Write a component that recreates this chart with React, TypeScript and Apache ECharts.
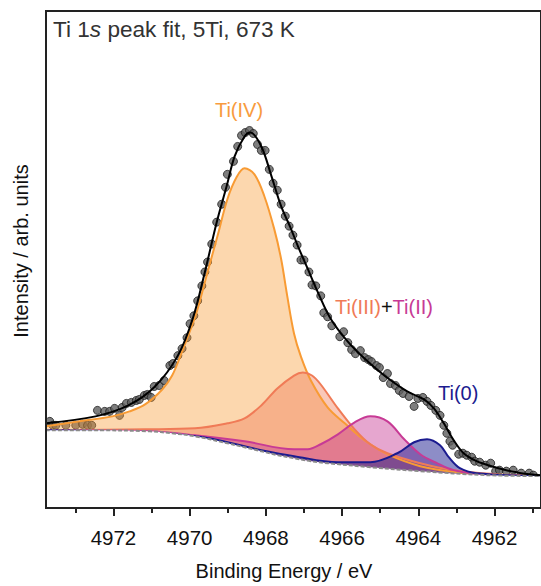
import React, { useEffect, useRef } from "react";
import * as echarts from "echarts";

// Binding energy axis
const xMin = 4960.78;
const xMax = 4973.77;
const majorTicks = [4962, 4964, 4966, 4968, 4970, 4972];
const minorTicks = [4961, 4963, 4965, 4967, 4969, 4971, 4973];

// Measured points (eV, intensity a.u.)
const pointsEV = [4973.67, 4973.59, 4973.51, 4973.25, 4972.99, 4972.81, 4972.68, 4972.57, 4972.42, 4972.23, 4972.10, 4971.97, 4971.84, 4971.77, 4971.66, 4971.53, 4971.40, 4971.32, 4971.19, 4971.11, 4971.01, 4970.93, 4970.80, 4970.67, 4970.52, 4970.44, 4970.31, 4970.20, 4970.07, 4969.99, 4969.89, 4969.79, 4969.68, 4969.60, 4969.53, 4969.42, 4969.29, 4969.16, 4969.06, 4969.01, 4968.85, 4968.74, 4968.64, 4968.54, 4968.43, 4968.33, 4968.22, 4968.12, 4968.02, 4967.91, 4967.81, 4967.70, 4967.60, 4967.49, 4967.39, 4967.29, 4967.18, 4967.08, 4967.00, 4966.87, 4966.79, 4966.69, 4966.56, 4966.48, 4966.38, 4966.27, 4966.06, 4965.96, 4965.85, 4965.75, 4965.65, 4965.52, 4965.41, 4965.31, 4965.23, 4965.10, 4965.02, 4964.92, 4964.81, 4964.73, 4964.60, 4964.50, 4964.40, 4964.24, 4964.11, 4964.01, 4963.88, 4963.77, 4963.67, 4963.54, 4963.43, 4963.33, 4963.25, 4963.17, 4963.10, 4962.94, 4962.83, 4962.73, 4962.60, 4962.52, 4962.39, 4962.23, 4962.10, 4961.97, 4961.87, 4961.69, 4961.51, 4961.30, 4961.09, 4960.98];
const pointsI = [87, 83, 83, 83, 83, 84, 83, 83, 98, 97, 97, 100, 93, 101, 105, 106, 108, 109, 113, 114, 111, 122, 123, 128, 143, 145, 153, 160, 171, 185, 193, 208, 223, 237, 247, 265, 287, 305, 322, 335, 348, 363, 374, 377, 379, 376, 365, 359, 359, 340, 326, 319, 305, 293, 283, 274, 264, 249, 249, 237, 224, 223, 213, 196, 192, 183, 172, 177, 166, 159, 155, 158, 151, 149, 147, 143, 141, 131, 135, 125, 123, 118, 115, 112, 102, 110, 111, 107, 103, 98, 93, 83, 75, 67, 63, 54, 55, 53, 51, 47, 46, 43, 45, 37, 38, 37, 38, 35, 35, 33];

// Fit envelope
const fitEV = [4973.77, 4972.47, 4971.61, 4970.91, 4970.31, 4969.92, 4969.60, 4969.29, 4969.03, 4968.82, 4968.56, 4968.41, 4968.12, 4967.86, 4967.60, 4967.36, 4967.16, 4966.90, 4966.64, 4966.30, 4965.85, 4965.41, 4964.89, 4964.29, 4963.85, 4963.59, 4963.33, 4963.07, 4962.81, 4962.47, 4962.08, 4961.69, 4961.30, 4960.78];
const fitI = [85, 92, 103, 122, 153, 190, 237, 287, 323, 353, 373, 377, 363, 334, 303, 282, 263, 240, 217, 190, 167, 150, 133, 117, 109, 100, 85, 68, 55, 47, 42, 38, 35, 33];

// Background (Shirley-like)
const bgEV = [4973.77, 4972.36, 4971.06, 4970.46, 4969.86, 4969.01, 4968.56, 4968.12, 4967.68, 4967.26, 4966.82, 4966.38, 4965.26, 4963.95, 4962.21, 4960.78];
const bgI = [78, 78, 77, 75, 72, 65, 61, 57, 53, 50, 47, 45, 41, 37, 33, 32];

// Ti(IV) component
const ti4EV = [4973.77, 4972.89, 4972.03, 4971.58, 4971.17, 4970.72, 4970.46, 4970.20, 4969.94, 4969.79, 4969.53, 4969.27, 4969.01, 4968.77, 4968.56, 4968.30, 4968.04, 4967.78, 4967.60, 4967.44, 4967.26, 4967.08, 4966.82, 4966.38, 4965.93, 4965.41, 4964.81, 4963.95, 4962.99, 4961.95, 4960.78];
const ti4I = [82, 87, 92, 97, 104, 119, 133, 157, 183, 200, 237, 273, 310, 332, 341, 335, 313, 280, 250, 213, 175, 152, 128, 101, 85, 68, 54, 42, 36, 33, 32];

// Ti(III) component
const ti3EV = [4973.77, 4971.17, 4969.86, 4969.01, 4968.56, 4968.12, 4967.70, 4967.26, 4967.03, 4966.79, 4966.56, 4966.11, 4965.67, 4965.26, 4964.81, 4963.95, 4963.07, 4961.95, 4960.78];
const ti3I = [78, 79, 80, 85, 90, 103, 120, 133, 136, 133, 124, 100, 79, 64, 55, 45, 38, 34, 32];

// Ti(II) component
const ti2EV = [4973.77, 4971.06, 4969.86, 4968.56, 4967.26, 4966.90, 4966.56, 4966.11, 4965.67, 4965.26, 4964.81, 4964.37, 4963.95, 4963.51, 4963.07, 4962.21, 4960.78];
const ti2I = [78, 77, 73, 67, 59, 59, 64, 74, 86, 92, 87, 69, 54, 45, 38, 33, 32];

// Ti(0) component
const ti0EV = [4973.77, 4969.86, 4968.12, 4967.26, 4966.11, 4965.26, 4964.55, 4964.11, 4963.77, 4963.43, 4963.20, 4962.91, 4962.47, 4960.78];
const ti0I = [78, 72, 58, 52, 46, 46, 55, 66, 69, 63, 51, 40, 35, 32];

const zip = (xs: number[], ys: number[]) => xs.map((x, i) => [x, ys[i]]);

const FONT = "'Liberation Sans', Arial, sans-serif";

function component(name: string, xs: number[], ys: number[], color: string, fillOpacity: number, z: number) {
  return {
    name,
    type: "line",
    data: zip(xs, ys),
    smooth: 0.35,
    symbol: "none",
    z,
    lineStyle: { color, width: 2 },
    areaStyle: { color, opacity: fillOpacity },
  };
}

export default function App() {
  const ref = useRef<HTMLDivElement>(null);
  useEffect(() => {
    if (!ref.current) return;
    const chart = echarts.init(ref.current, undefined, { renderer: "svg" });
    const option = {
      animation: false,
      backgroundColor: "#ffffff",
      grid: { left: 46, top: 11, width: 499, height: 499, show: true, borderColor: "#222", borderWidth: 2, backgroundColor: "transparent", z: 10 },
      xAxis: [
        {
          type: "value",
          inverse: true,
          min: xMin,
          max: xMax,
          z: 10,
          axisLine: { show: true, onZero: false, lineStyle: { color: "#222", width: 2 } },
          axisTick: { show: true, customValues: majorTicks, length: 8, lineStyle: { color: "#222", width: 2 } },
          axisLabel: { show: true, customValues: majorTicks, formatter: (v: number) => String(v), fontSize: 20.5, color: "#111", margin: 19, fontFamily: FONT },
          splitLine: { show: false },
          name: "Binding Energy / eV",
          nameLocation: "middle",
          nameGap: 53,
          nameTextStyle: { fontSize: 20, color: "#111", fontFamily: FONT, padding: [0, 19, 0, 0] },
        },
        {
          type: "value",
          inverse: true,
          min: xMin,
          max: xMax,
          position: "bottom",
          z: 10,
          axisLine: { show: false },
          axisTick: { show: true, customValues: minorTicks, length: 5, lineStyle: { color: "#222", width: 2 } },
          axisLabel: { show: false },
          splitLine: { show: false },
        },
      ],
      yAxis: {
        type: "value",
        min: 0,
        max: 499,
        axisLine: { show: false },
        axisTick: { show: false },
        axisLabel: { show: false },
        splitLine: { show: false },
        name: "Intensity / arb. units",
        nameLocation: "middle",
        nameGap: 15,
        nameTextStyle: { fontSize: 20, color: "#111", fontFamily: FONT, padding: [0, 0, 0, 17] },
      },
      series: [
        {
          name: "Data",
          type: "scatter",
          data: zip(pointsEV, pointsI),
          symbol: "circle",
          symbolSize: 8,
          z: 1,
          itemStyle: { color: "#5e5e5e", borderColor: "#1e1e1e", borderWidth: 1 },
        },
        component("Ti(IV)", ti4EV, ti4I, "#F89B34", 0.4, 2),
        component("Ti(III)", ti3EV, ti3I, "#F07B57", 0.42, 2),
        component("Ti(II)", ti2EV, ti2I, "#C73A95", 0.45, 2),
        component("Ti(0)", ti0EV, ti0I, "#1B1B8F", 0.5, 2),
        {
          name: "Background",
          type: "line",
          data: zip(bgEV, bgI),
          smooth: 0.35,
          symbol: "none",
          z: 3,
          lineStyle: { color: "#8a8a8a", width: 2, type: [4, 2] },
          areaStyle: { color: "#ffffff", opacity: 1 },
        },
        {
          name: "Fit",
          type: "line",
          data: zip(fitEV, fitI),
          smooth: 0.35,
          symbol: "none",
          z: 5,
          lineStyle: { color: "#000", width: 2 },
        },
      ],
      graphic: [
        {
          type: "text",
          x: 53,
          y: 29,
          z: 20,
          style: {
            text: "{n|Ti 1}{i|s}{n| peak fit, 5Ti, 673 K}",
            fill: "#333",
            font: `22.6px ${FONT}`,
            textVerticalAlign: "middle",
            verticalAlign: "middle",
            rich: {
              n: { fontSize: 22.6, fontFamily: FONT, fill: "#333", color: "#333" },
              i: { fontSize: 22.6, fontFamily: FONT, fontStyle: "italic", fill: "#333", color: "#333" },
            },
          },
        },
        {
          type: "text",
          x: 239,
          y: 110,
          z: 20,
          style: { text: "Ti(IV)", fill: "#F89B3E", font: `20px ${FONT}`, textAlign: "center", align: "center", textVerticalAlign: "middle", verticalAlign: "middle" },
        },
        {
          type: "text",
          x: 335,
          y: 307,
          z: 20,
          style: {
            text: "{a|Ti(III)}{b|+}{c|Ti(II)}",
            font: `20px ${FONT}`,
            textVerticalAlign: "middle",
            verticalAlign: "middle",
            rich: {
              a: { fontSize: 20, fontFamily: FONT, fill: "#F07B57", color: "#F07B57" },
              b: { fontSize: 20, fontFamily: FONT, fill: "#111", color: "#111" },
              c: { fontSize: 20, fontFamily: FONT, fill: "#C73A95", color: "#C73A95" },
            },
          },
        },
        {
          type: "text",
          x: 438,
          y: 393,
          z: 20,
          style: { text: "Ti(0)", fill: "#1B1B8F", font: `20px ${FONT}`, textVerticalAlign: "middle", verticalAlign: "middle" },
        },
      ],
    };
    chart.setOption(option as any);
    return () => chart.dispose();
  }, []);
  return <div ref={ref} style={{ position: "absolute", left: 0, top: 0, width: 541, height: 586 }} />;
}
